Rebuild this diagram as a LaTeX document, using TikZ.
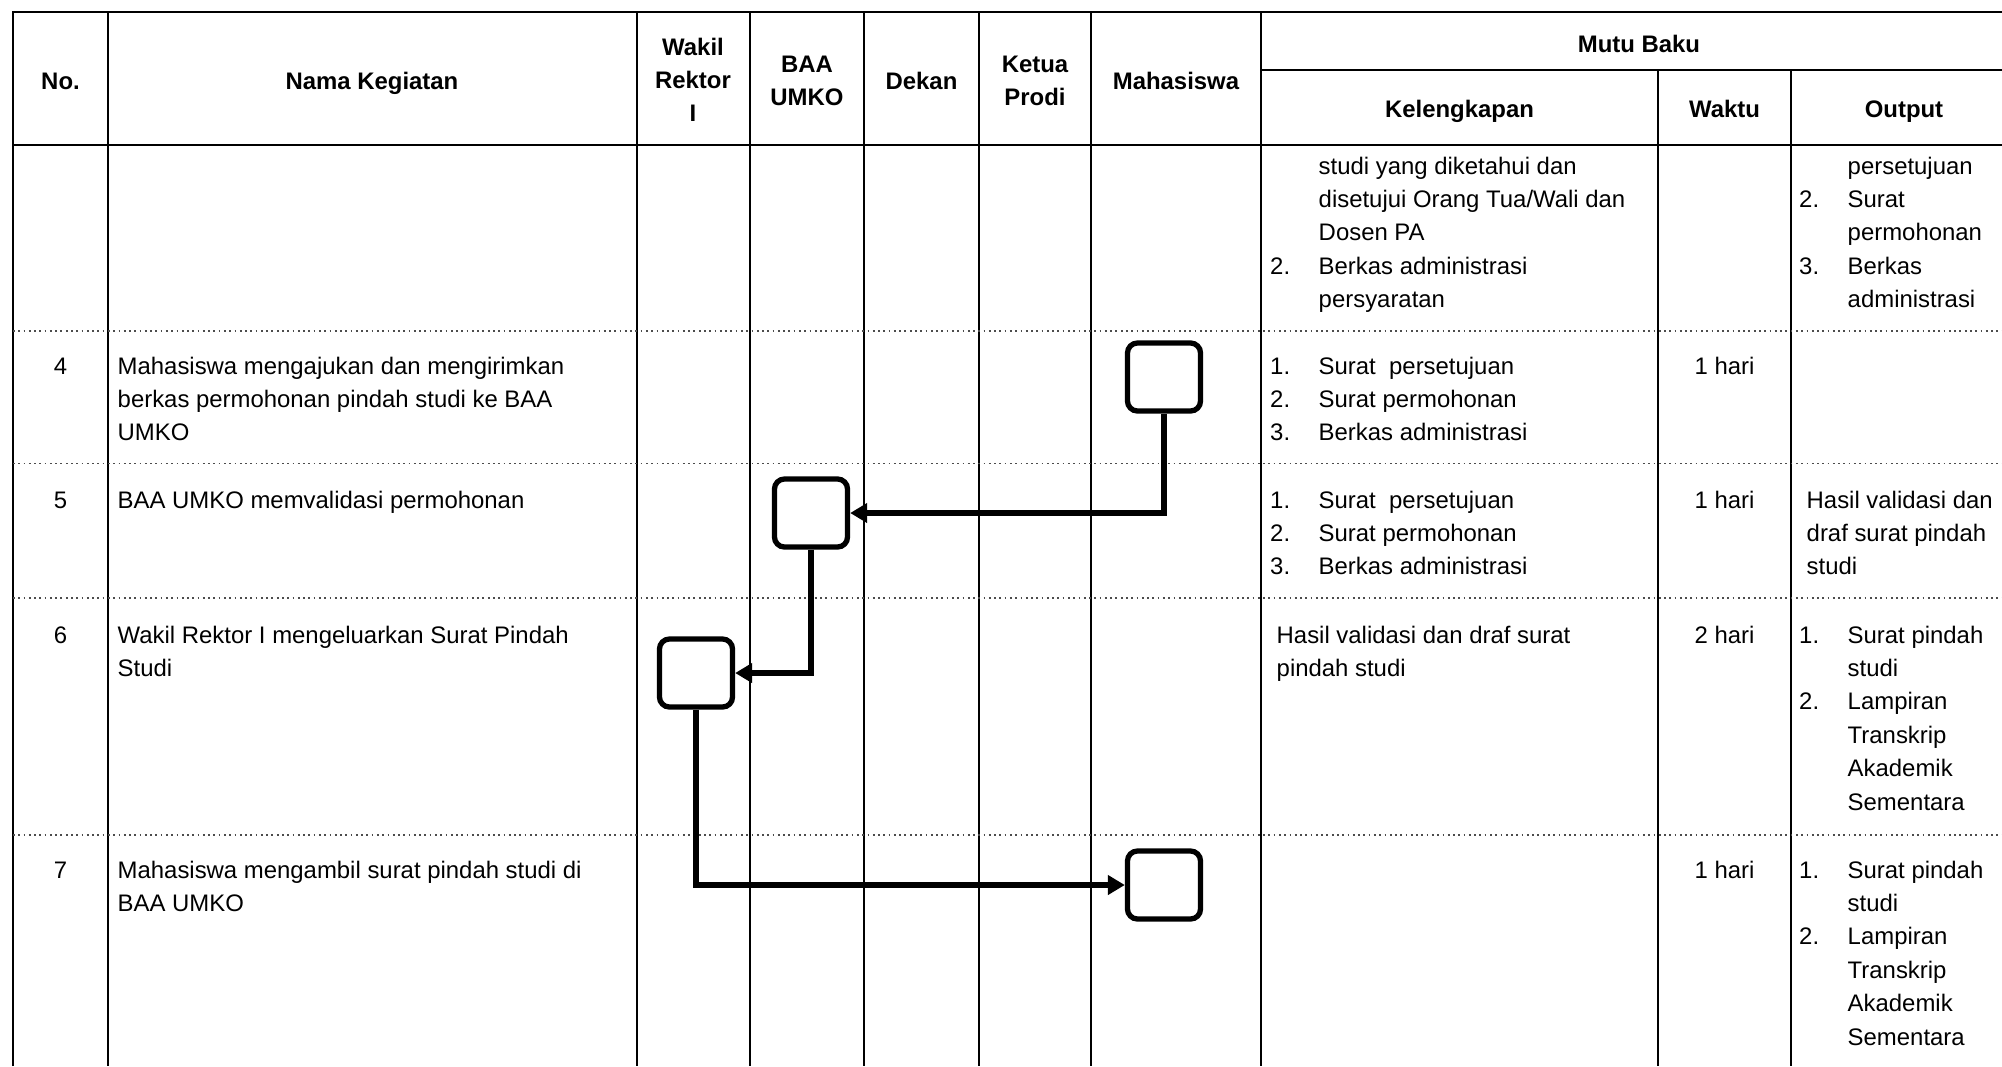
\documentclass[tikz,border=0pt]{standalone}
\usepackage{fontspec}
\setmainfont{Liberation Sans}
\usetikzlibrary{arrows.meta}

% baris teks (kiri / tengah) dan daftar bernomor
\newcommand{\baris}[1]{\begin{tabular}[t]{@{}l@{}}#1\end{tabular}}
\newcommand{\tengahbaris}[1]{\begin{tabular}[t]{@{}c@{}}#1\end{tabular}}
\newcommand{\daftar}[1]{\begin{tabular}[t]{@{}p{0.485cm}@{}l@{}}#1\end{tabular}}

\begin{document}
\begin{tikzpicture}[x=0.01cm,y=-0.01cm,
  every node/.style={inner sep=0pt,font=\fontsize{6.8}{9.5}\selectfont},
  judul/.style={anchor=base,font=\fontsize{6.8}{9.5}\selectfont\bfseries},
  tengah/.style={anchor=base},
  isi/.style={anchor=base west},
  garis/.style={line width=0.6pt},
  batas/.style={densely dotted,line width=0.5pt,black!70},
  kotak/.style={draw,line width=1.5pt,rounded corners=0.1cm,minimum width=0.73cm,minimum height=0.68cm},
  alur/.style={line width=1.6pt,-{Triangle[length=0.17cm,width=0.19cm]}}]
  \useasboundingbox (0,0) rectangle (2002,1066);

  % tabel
  \draw[garis] (13,1066) -- (13,12) -- (2002,12);
  \foreach \x in {108,637,750,864,979,1091,1261}
    \draw[garis] (\x,12) -- (\x,1066);
  \foreach \x in {1658,1791}
    \draw[garis] (\x,70) -- (\x,1066);
  \draw[garis] (1261,70) -- (2002,70);
  \draw[garis] (13,145) -- (2002,145);
  \foreach \y in {330.7,463.5,598,835}
    \draw[batas] (13,\y) -- (2002,\y);

  % kepala tabel
  \node[judul] (hNo) at (60.5,89) {No.};
  \node[judul] (hKeg) at (372,89) {Nama Kegiatan};
  \node[judul] (hWR) at (693,55) {\tengahbaris{Wakil\\Rektor\\I}};
  \node[judul] (hBAA) at (807,72) {\tengahbaris{BAA\\UMKO}};
  \node[judul] (hDekan) at (921.5,89) {Dekan};
  \node[judul] (hKaprodi) at (1035,72) {\tengahbaris{Ketua\\Prodi}};
  \node[judul] (hMhs) at (1176,89) {Mahasiswa};
  \node[judul] (hMutu) at (1639,52) {Mutu Baku};
  \node[judul] (hKel) at (1459.5,117) {Kelengkapan};
  \node[judul] (hWkt) at (1724.5,117) {Waktu};
  \node[judul] (hOut) at (1904,117) {Output};

  % lanjutan baris 3
  \node[isi] (kel3) at (1269.5,174) {\daftar{&studi yang diketahui dan\\&disetujui Orang Tua/Wali dan\\&Dosen PA\\2.&Berkas administrasi\\&persyaratan}};
  \node[isi] (out3) at (1798.5,174) {\daftar{&persetujuan\\2.&Surat\\&permohonan\\3.&Berkas\\&administrasi}};

  % baris 4
  \node[tengah] (no4) at (60.5,374) {4};
  \node[isi] (keg4) at (117,374) {\baris{Mahasiswa mengajukan dan mengirimkan\\berkas permohonan pindah studi ke BAA\\UMKO}};
  \node[isi] (kel4) at (1269.5,374) {\daftar{1.&Surat\ \ persetujuan\\2.&Surat permohonan\\3.&Berkas administrasi}};
  \node[tengah] (wkt4) at (1724.5,374) {1 hari};

  % baris 5
  \node[tengah] (no5) at (60.5,508) {5};
  \node[isi] (keg5) at (117,508) {BAA UMKO memvalidasi permohonan};
  \node[isi] (kel5) at (1269.5,508) {\daftar{1.&Surat\ \ persetujuan\\2.&Surat permohonan\\3.&Berkas administrasi}};
  \node[tengah] (wkt5) at (1724.5,508) {1 hari};
  \node[isi] (out5) at (1806,508) {\baris{Hasil validasi dan\\draf surat pindah\\studi}};

  % baris 6
  \node[tengah] (no6) at (60.5,643) {6};
  \node[isi] (keg6) at (117,643) {\baris{Wakil Rektor I mengeluarkan Surat Pindah\\Studi}};
  \node[isi] (kel6) at (1276,643) {\baris{Hasil validasi dan draf surat\\pindah studi}};
  \node[tengah] (wkt6) at (1724.5,643) {2 hari};
  \node[isi] (out6) at (1798.5,643) {\daftar{1.&Surat pindah\\&studi\\2.&Lampiran\\&Transkrip\\&Akademik\\&Sementara}};

  % baris 7
  \node[tengah] (no7) at (60.5,878) {7};
  \node[isi] (keg7) at (117,878) {\baris{Mahasiswa mengambil surat pindah studi di\\BAA UMKO}};
  \node[tengah] (wkt7) at (1724.5,878) {1 hari};
  \node[isi] (out7) at (1798.5,878) {\daftar{1.&Surat pindah\\&studi\\2.&Lampiran\\&Transkrip\\&Akademik\\&Sementara}};

  % alur
  \node[kotak] (mhs4) at (1164,377) {};
  \node[kotak] (baa5) at (811,513) {};
  \node[kotak] (wr6) at (696,673) {};
  \node[kotak] (mhs7) at (1164,885) {};
  \draw[alur] (mhs4.south) |- (baa5.east);
  \draw[alur] (baa5.south) |- (wr6.east);
  \draw[alur] (wr6.south) |- (mhs7.west);
\end{tikzpicture}
\end{document}
